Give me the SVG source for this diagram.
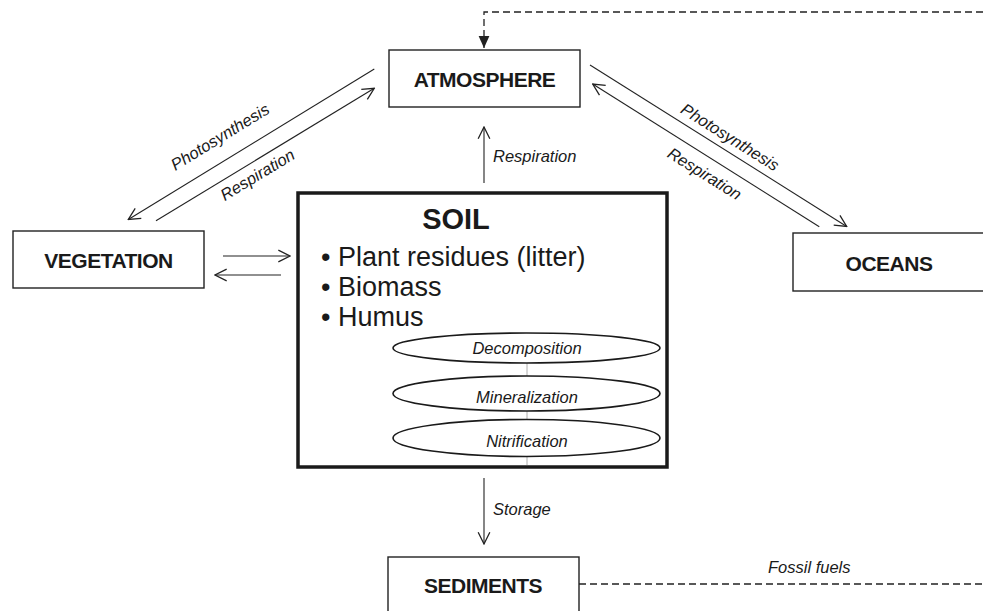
<svg xmlns="http://www.w3.org/2000/svg" width="983" height="611" viewBox="0 0 983 611">
<style>
.box{fill:#fff;stroke:#222;stroke-width:1.4}
.soil{fill:#fff;stroke:#1a1a1a;stroke-width:3.5}
.lbl{font-family:"Liberation Sans",Arial,Helvetica,sans-serif;font-weight:bold;font-size:21px;letter-spacing:-0.5px;fill:#1a1a1a;text-anchor:middle}
.it{font-family:"Liberation Sans",Arial,Helvetica,sans-serif;font-style:italic;font-size:16.5px;fill:#1a1a1a}
.big{font-family:"Liberation Sans",Arial,Helvetica,sans-serif;font-size:27px;fill:#1a1a1a}
.ln{fill:none;stroke:#222;stroke-width:1.1;marker-end:url(#open)}
.dash{fill:none;stroke:#222;stroke-width:1.3;stroke-dasharray:7 4}
.ell{fill:#fff;stroke:#1a1a1a;stroke-width:1.6}
</style>
<defs>
<marker id="open" markerUnits="userSpaceOnUse" markerWidth="14" markerHeight="14" refX="11" refY="6" orient="auto" viewBox="0 0 12 12">
<path d="M1,1 L11,6 L1,11" fill="none" stroke="#222" stroke-width="1.1"/>
</marker>
<marker id="solid" markerUnits="userSpaceOnUse" markerWidth="12" markerHeight="12" refX="10" refY="5" orient="auto" viewBox="0 0 10 10">
<path d="M0,0.5 L10,5 L0,9.5 Z" fill="#222"/>
</marker>
</defs>

<g id="connectors">
<path class="dash" d="M983,12 H484 V48" marker-end="url(#solid)"/>
<path class="dash" d="M579,584 H983"/>
<line class="ln" x1="374.3" y1="69" x2="128.3" y2="219.5"/>
<line class="ln" x1="156" y1="220.7" x2="374.3" y2="88.3"/>
<line class="ln" x1="590" y1="65" x2="846.7" y2="226.5"/>
<line class="ln" x1="819.3" y1="226.7" x2="592.7" y2="84"/>
<line class="ln" x1="223" y1="256" x2="290" y2="256"/>
<line class="ln" x1="281" y1="275" x2="215" y2="275"/>
<line class="ln" x1="484" y1="183" x2="484" y2="127"/>
<line class="ln" x1="484" y1="478" x2="484" y2="544"/>
<text class="it" transform="translate(223,141.7) rotate(-31.5)" text-anchor="middle">Photosynthesis</text>
<text class="it" transform="translate(260.5,179.6) rotate(-31.2)" text-anchor="middle">Respiration</text>
<text class="it" transform="translate(727,142) rotate(32)" text-anchor="middle">Photosynthesis</text>
<text class="it" transform="translate(701.6,178.5) rotate(32)" text-anchor="middle">Respiration</text>
<text class="it" x="493" y="162">Respiration</text>
<text class="it" x="493" y="515">Storage</text>
<text class="it" x="768" y="573">Fossil fuels</text>
</g>

<g id="atmosphere">
<rect class="box" x="389" y="50" width="191" height="57"/>
<text class="lbl" x="484.5" y="87">ATMOSPHERE</text>
</g>

<g id="vegetation">
<rect class="box" x="13" y="231" width="191" height="57"/>
<text class="lbl" x="108.5" y="268">VEGETATION</text>
</g>

<g id="oceans">
<rect class="box" x="793" y="233" width="200" height="58"/>
<text class="lbl" x="889" y="271">OCEANS</text>
</g>

<g id="sediments">
<rect class="box" x="388" y="557" width="191" height="70"/>
<text class="lbl" x="483" y="593">SEDIMENTS</text>
</g>

<g id="soil">
<rect class="soil" x="298" y="193" width="369" height="274"/>
<text x="456" y="229" font-family="Liberation Sans, Arial, Helvetica, sans-serif" font-weight="bold" font-size="29" fill="#1a1a1a" text-anchor="middle">SOIL</text>
<text class="big" x="321" y="266">• Plant residues (litter)</text>
<text class="big" x="321" y="296">• Biomass</text>
<text class="big" x="321" y="326">• Humus</text>
<line x1="527" y1="363" x2="527" y2="465" stroke="#999" stroke-width="0.8"/>
<g id="decomposition">
<ellipse class="ell" cx="526.5" cy="348" rx="133.5" ry="15"/>
<text class="it" x="527" y="354" text-anchor="middle">Decomposition</text>
</g>
<g id="mineralization">
<ellipse class="ell" cx="526.5" cy="393.5" rx="133.5" ry="17.5"/>
<text class="it" x="527" y="403" text-anchor="middle">Mineralization</text>
</g>
<g id="nitrification">
<ellipse class="ell" cx="526.5" cy="438" rx="133.5" ry="18.5"/>
<text class="it" x="527" y="447" text-anchor="middle">Nitrification</text>
</g>
</g>
</svg>
